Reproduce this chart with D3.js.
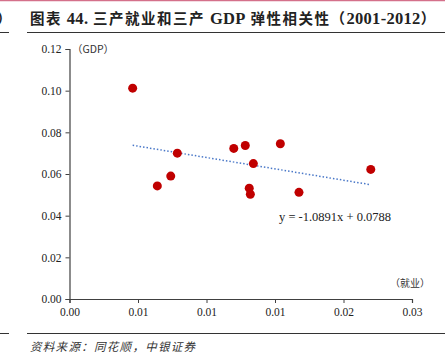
<!DOCTYPE html>
<html><head><meta charset="utf-8">
<script src="https://cdn.jsdelivr.net/npm/d3@7"></script>
<style>
html,body{margin:0;padding:0;background:#fff;}
svg{display:block;}
</style></head>
<body>
<svg id="c" width="445" height="360"></svg>
<script>
// Data
const employment = [0.00461, 0.00787, 0.00739, 0.00641, 0.01199, 0.01283, 0.01539, 0.01342, 0.01312, 0.01320, 0.01675, 0.02199];
const gdp        = [0.1012, 0.0700, 0.0590, 0.0543, 0.0723, 0.0737, 0.0745, 0.0650, 0.0532, 0.0503, 0.0512, 0.0622];
const slope = -1.0891, intercept = 0.0788;
const xTicks = [0, 0.005, 0.01, 0.015, 0.02, 0.025];
const yTicks = [0, 0.02, 0.04, 0.06, 0.08, 0.10, 0.12];
const titleParts = [["图表 ","cjk"],["44.","lat"],[" 三产就业和三产 ","cjk"],["GDP","lat"],[" 弹性相关性（","cjk"],["2001-2012","lat"],["）","cjk"]];
const source = "资料来源：同花顺，中银证券";

const svg = d3.select("#c");
const serif = "'Liberation Serif','DejaVu Serif',serif";
const cjk = "'Noto Sans CJK SC','Noto Sans CJK JP',sans-serif";

const x = d3.scaleLinear().domain([0, 0.025]).range([69.5, 412]);
const y = d3.scaleLinear().domain([0, 0.12]).range([299, 49]);

// header decorations
svg.append("line").attr("x1",0).attr("x2",445).attr("y1",0.5).attr("y2",0.5).attr("stroke","#d4708a").attr("stroke-width",1.5);
svg.append("text").attr("x",-3).attr("y",23).attr("font-family",cjk).attr("font-size",14).attr("font-weight","bold").attr("fill","#222").text("）");
svg.append("line").attr("x1",0).attr("x2",9).attr("y1",32.5).attr("y2",32.5).attr("stroke","#333");
svg.append("line").attr("x1",27).attr("x2",445).attr("y1",32.5).attr("y2",32.5).attr("stroke","#333");
const t = svg.append("text").attr("x",30).attr("y",23.5).attr("font-weight","bold").attr("fill","#222");
titleParts.forEach(([s,k]) => {
  t.append("tspan").attr("font-family", k==="cjk"?cjk:serif)
   .attr("font-size", k==="cjk"?14.5:16.5)
   .attr("letter-spacing", k==="cjk"?1.5:0.3)
   .text(s);
});

// footer
svg.append("line").attr("x1",0).attr("x2",9).attr("y1",333.5).attr("y2",333.5).attr("stroke","#333");
svg.append("line").attr("x1",27).attr("x2",445).attr("y1",333.5).attr("y2",333.5).attr("stroke","#333");
svg.append("text").attr("x",30).attr("y",351).attr("font-family",cjk).attr("font-size",11.5).attr("letter-spacing",1.3).attr("font-style","italic").attr("fill","#333").text(source);

// axes
const fmt = d3.format(".2f");
const gx = svg.append("g").attr("transform",`translate(0,${y(0)})`)
  .call(d3.axisBottom(x).tickValues(xTicks).tickFormat(fmt).tickSizeOuter(0).tickSize(4));
const gy = svg.append("g").attr("transform",`translate(${x(0)},0)`)
  .call(d3.axisLeft(y).tickValues(yTicks).tickFormat(fmt).tickSizeOuter(0).tickSize(4));
[gx, gy].forEach(g => {
  g.select(".domain").attr("stroke","#404040").attr("stroke-width",1.2);
  g.selectAll(".tick line").attr("stroke","#404040");
  g.selectAll("text").attr("font-family",serif).attr("font-size",11.5).attr("fill","#222");
});
gx.selectAll("text").attr("dy","0.9em");
gy.selectAll("text").attr("x",-8);

// axis unit labels
svg.append("text").attr("x",72).attr("y",53).attr("font-family",cjk).attr("font-size",10.5).attr("fill","#333").text("（GDP）");
svg.append("text").attr("x",390).attr("y",287).attr("font-family",cjk).attr("font-size",10).attr("fill","#333").text("（就业）");

// trendline
const xmin = d3.min(employment), xmax = d3.max(employment);
svg.append("line")
  .attr("x1",x(xmin)).attr("y1",y(slope*xmin+intercept))
  .attr("x2",x(xmax)).attr("y2",y(slope*xmax+intercept))
  .attr("stroke","#4a78c8").attr("stroke-width",1.5).attr("stroke-dasharray","1.5,2");

// points
svg.append("g").selectAll("circle").data(employment.map((v,i)=>[v,gdp[i]])).join("circle")
  .attr("cx",d=>x(d[0])).attr("cy",d=>y(d[1])).attr("r",4.5).attr("fill","#c00000");

// equation
svg.append("text").attr("x",279).attr("y",221).attr("font-family",serif).attr("font-size",12.5).attr("fill","#222")
  .text(`y = ${slope}x + ${intercept}`);
</script>
</body></html>
